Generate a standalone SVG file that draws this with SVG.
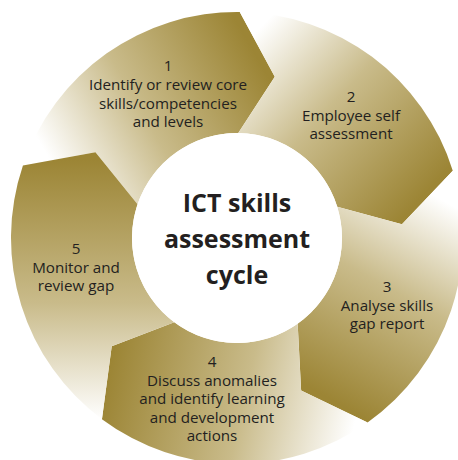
<svg xmlns="http://www.w3.org/2000/svg" width="458" height="460" viewBox="0 0 458 460">
<defs>
<linearGradient id="g1" gradientUnits="userSpaceOnUse" x1="70" y1="195" x2="270" y2="80">
<stop offset="0" stop-color="#ffffff"/><stop offset="0.45" stop-color="#c9bb8a"/><stop offset="1" stop-color="#9c8535"/></linearGradient>
<linearGradient id="g2" gradientUnits="userSpaceOnUse" x1="230" y1="60" x2="400" y2="220">
<stop offset="0" stop-color="#ffffff"/><stop offset="0.45" stop-color="#c9bb8a"/><stop offset="1" stop-color="#9c8535"/></linearGradient>
<linearGradient id="g3" gradientUnits="userSpaceOnUse" x1="415" y1="185" x2="305" y2="385">
<stop offset="0" stop-color="#ffffff"/><stop offset="0.45" stop-color="#c9bb8a"/><stop offset="1" stop-color="#9c8535"/></linearGradient>
<linearGradient id="g4" gradientUnits="userSpaceOnUse" x1="360" y1="400" x2="115" y2="345">
<stop offset="0" stop-color="#ffffff"/><stop offset="0.45" stop-color="#c9bb8a"/><stop offset="1" stop-color="#9c8535"/></linearGradient>
<linearGradient id="g5" gradientUnits="userSpaceOnUse" x1="95" y1="420" x2="95" y2="160">
<stop offset="0" stop-color="#ffffff"/><stop offset="0.45" stop-color="#c9bb8a"/><stop offset="1" stop-color="#9c8535"/></linearGradient>
</defs>
<style>
.lbl{font-family:"Open Sans","Liberation Sans",sans-serif;font-size:15.2px;fill:#231f20;text-anchor:middle}
.ttl{font-family:"Open Sans","Liberation Sans",sans-serif;font-size:25px;font-weight:bold;fill:#231f20;text-anchor:middle}
</style>
<g id="seg1">
<path d="M22.93 165.54 A226 226 0 0 1 239.76 12.02 L274.79 76.87 L238.28 133.01 A105 105 0 0 0 137.54 204.34 L95.44 152.27 Z" fill="url(#g1)"/>
<text class="lbl"><tspan x="168" y="71">1</tspan><tspan x="168" y="90">Identify or review core</tspan><tspan x="168" y="108.5">skills/competencies</tspan><tspan x="168" y="127">and levels</tspan></text>
</g>
<g id="seg2">
<path d="M239.76 12.02 A226 226 0 0 1 452.78 170.79 L401.92 224.15 L337.25 206.78 A105 105 0 0 0 238.28 133.01 L274.79 76.87 Z" fill="url(#g2)"/>
<text class="lbl"><tspan x="351" y="102">2</tspan><tspan x="351" y="120.5">Employee self</tspan><tspan x="351" y="139">assessment</tspan></text>
</g>
<g id="seg3">
<path d="M452.78 170.79 A226 226 0 0 1 367.57 422.46 L301.13 390.57 L297.66 323.70 A105 105 0 0 0 337.25 206.78 L401.92 224.15 Z" fill="url(#g3)"/>
<text class="lbl"><tspan x="387" y="292">3</tspan><tspan x="387" y="310.5">Analyse skills</tspan><tspan x="387" y="329">gap report</tspan></text>
</g>
<g id="seg4">
<path d="M367.57 422.46 A226 226 0 0 1 101.94 419.20 L111.72 346.14 L174.25 322.19 A105 105 0 0 0 297.66 323.70 L301.13 390.57 Z" fill="url(#g4)"/>
<text class="lbl"><tspan x="212" y="367">4</tspan><tspan x="212" y="385.5">Discuss anomalies</tspan><tspan x="212" y="404">and identify learning</tspan><tspan x="212" y="422.5">and development</tspan><tspan x="212" y="441">actions</tspan></text>
</g>
<g id="seg5">
<path d="M101.94 419.20 A226 226 0 0 1 22.93 165.54 L95.44 152.27 L137.54 204.34 A105 105 0 0 0 174.25 322.19 L111.72 346.14 Z" fill="url(#g5)"/>
<text class="lbl"><tspan x="76" y="254">5</tspan><tspan x="76" y="272.5">Monitor and</tspan><tspan x="76" y="291">review gap</tspan></text>
</g>
<g id="center">
<circle cx="237" cy="238" r="105" fill="#ffffff"/>
<text class="ttl"><tspan x="237" y="212">ICT skills</tspan><tspan x="237" y="248">assessment</tspan><tspan x="237" y="283.5">cycle</tspan></text>
</g>
<g id="connectors"/>
</svg>
